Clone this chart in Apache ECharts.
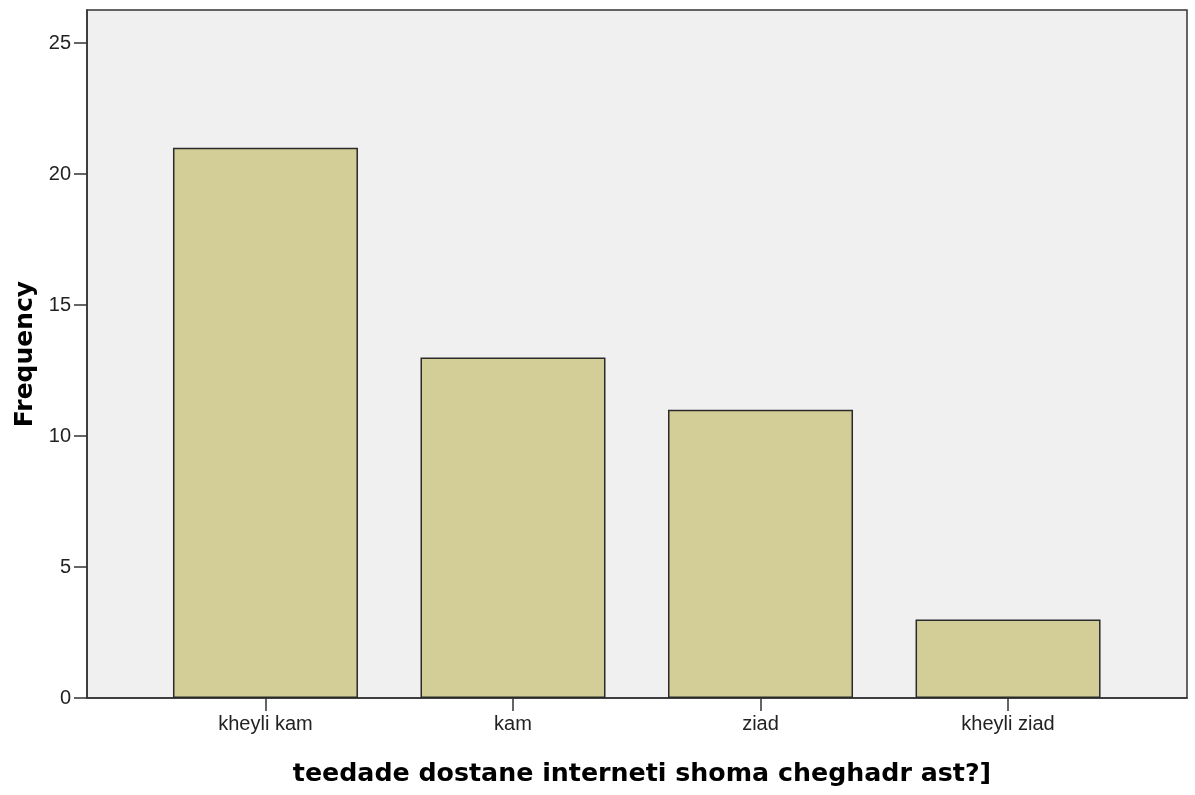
<!DOCTYPE html>
<html>
<head>
<meta charset="utf-8">
<script src="https://cdn.jsdelivr.net/npm/echarts@6/dist/echarts.min.js"></script>
<style>
html,body{margin:0;padding:0;background:#fff;}
#chart{width:1195px;height:795px;}
</style>
</head>
<body>
<div id="chart"></div>
<script>
var categories = ['kheyli kam', 'kam', 'ziad', 'kheyli ziad'];
var frequencies = [21, 13, 11, 3];
var yTicks = [0, 5, 10, 15, 20, 25];
var xTitle = 'teedade dostane interneti shoma cheghadr ast?]';
var yTitle = 'Frequency';

var positions = categories.map(function (c, i) { return i; });
var barData = frequencies.map(function (v, i) { return [i, v]; });

var chart = echarts.init(document.getElementById('chart'), null, {renderer: 'canvas'});
chart.setOption({
  animation: false,
  backgroundColor: '#ffffff',
  grid: {
    left: 87, right: 8, top: 10, bottom: 97,
    show: true,
    backgroundColor: '#f0f0f0',
    borderColor: '#333333',
    borderWidth: 1.5
  },
  xAxis: {
    type: 'value',
    min: -0.721,
    max: 3.723,
    name: xTitle,
    nameLocation: 'middle',
    nameGap: 64,
    nameTextStyle: {fontFamily: 'DejaVu Sans', fontWeight: 'bold', fontSize: 25.3, color: '#000', padding: [0, 0, 0, 10]},
    axisLine: {show: true, onZero: false, lineStyle: {color: '#333', width: 1.5}},
    axisTick: {show: true, length: 13, customValues: positions, lineStyle: {color: '#333', width: 1.5}},
    axisLabel: {
      customValues: positions,
      margin: 16,
      fontFamily: 'Liberation Sans',
      fontSize: 20,
      color: '#222',
      formatter: function (v) { return categories[Math.round(v)]; }
    },
    splitLine: {show: false}
  },
  yAxis: {
    type: 'value',
    min: 0,
    max: 26.26,
    interval: 5,
    name: yTitle,
    nameLocation: 'middle',
    nameGap: 48,
    nameTextStyle: {fontFamily: 'DejaVu Sans', fontWeight: 'bold', fontSize: 25, color: '#000'},
    axisLine: {show: true, onZero: false, lineStyle: {color: '#333', width: 1.5}},
    axisTick: {show: true, length: 13, customValues: yTicks, lineStyle: {color: '#333', width: 1.5}},
    axisLabel: {
      customValues: yTicks,
      margin: 16,
      fontFamily: 'Liberation Sans',
      fontSize: 20,
      color: '#222'
    },
    splitLine: {show: false}
  },
  series: [{
    type: 'bar',
    data: barData,
    barWidth: 185,
    itemStyle: {color: '#d3ce97', borderColor: '#2a2a2a', borderWidth: 1.5}
  }]
});
</script>
</body>
</html>
